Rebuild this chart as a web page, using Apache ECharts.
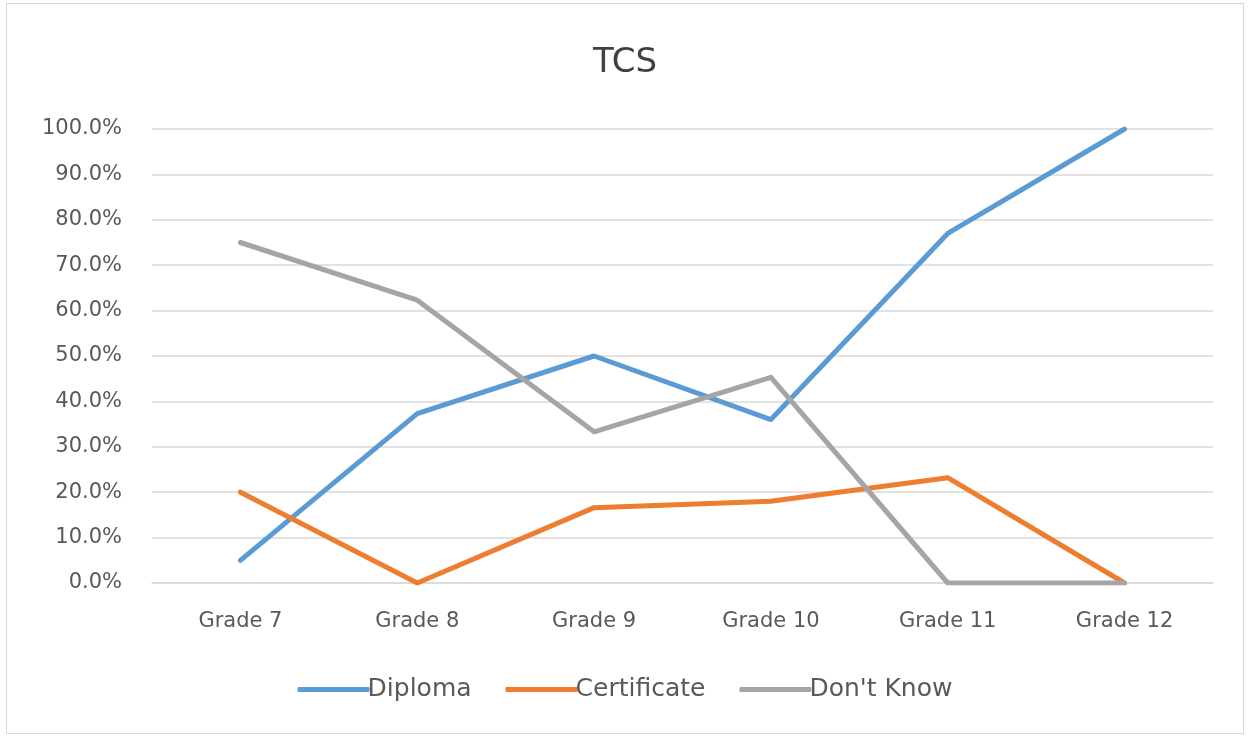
<!DOCTYPE html>
<html>
<head>
    <meta charset="utf-8">
    <script src="https://cdn.jsdelivr.net/npm/echarts@6/dist/echarts.min.js"></script>
    <style>
        body { margin: 0; background: #fff; }
        #main { position: absolute; left: 6px; top: 3px; width: 1236px; height: 729px; border: 1px solid #d9d9d9; }
    </style>
</head>
<body>
    <div id="main"></div>
    <script type="text/javascript">
        var myChart = echarts.init(document.getElementById('main'));

        // 数据
        var grades = ['Grade 7', 'Grade 8', 'Grade 9', 'Grade 10', 'Grade 11', 'Grade 12'];
        var diploma = [5.0, 37.3, 50.0, 36.0, 77.0, 100.0];
        var certificate = [20.0, 0.0, 16.6, 18.0, 23.2, 0.0];
        var dontKnow = [75.0, 62.3, 33.3, 45.3, 0.0, 0.0];

        var textColor = '#595959';
        var font = 'DejaVu Sans, sans-serif';

        function makeLine(name, data, color) {
            return {
                name: name,
                type: 'line',
                data: data,
                symbol: 'none',
                animation: false,
                lineStyle: { width: 5, color: color, cap: 'round', join: 'round' },
                itemStyle: { color: color }
            };
        }

        var option = {
            title: {
                text: 'TCS',
                left: 'center',
                top: 37,
                textStyle: { fontSize: 34, fontWeight: 'normal', color: '#404040', fontFamily: font }
            },
            legend: {
                bottom: 26,
                left: 'center',
                itemWidth: 72,
                itemHeight: 5,
                itemGap: 34,
                icon: 'roundRect',
                textStyle: { fontSize: 25, color: textColor, fontFamily: font, padding: [0, 0, 0, -7] },
                data: ['Diploma', 'Certificate', "Don't Know"]
            },
            grid: {
                left: 145,
                right: 30,
                top: 125,
                bottom: 150
            },
            xAxis: {
                type: 'category',
                data: grades,
                boundaryGap: true,
                axisLine: { lineStyle: { color: '#d9d9d9', width: 1.5 } },
                axisTick: { show: false },
                axisLabel: { fontSize: 21, color: textColor, margin: 28, fontFamily: font }
            },
            yAxis: {
                type: 'value',
                min: 0,
                max: 100,
                interval: 10,
                axisLine: { show: false },
                axisTick: { show: false },
                splitLine: { lineStyle: { color: '#d9d9d9', width: 1.5 } },
                axisLabel: {
                    fontSize: 21, color: textColor, margin: 30, fontFamily: font,
                    formatter: function (v) { return v.toFixed(1) + '%'; }
                }
            },
            series: [
                makeLine('Diploma', diploma, '#5B9BD5'),
                makeLine('Certificate', certificate, '#ED7D31'),
                makeLine("Don't Know", dontKnow, '#A5A5A5')
            ]
        };

        myChart.setOption(option);
    </script>
</body>
</html>
